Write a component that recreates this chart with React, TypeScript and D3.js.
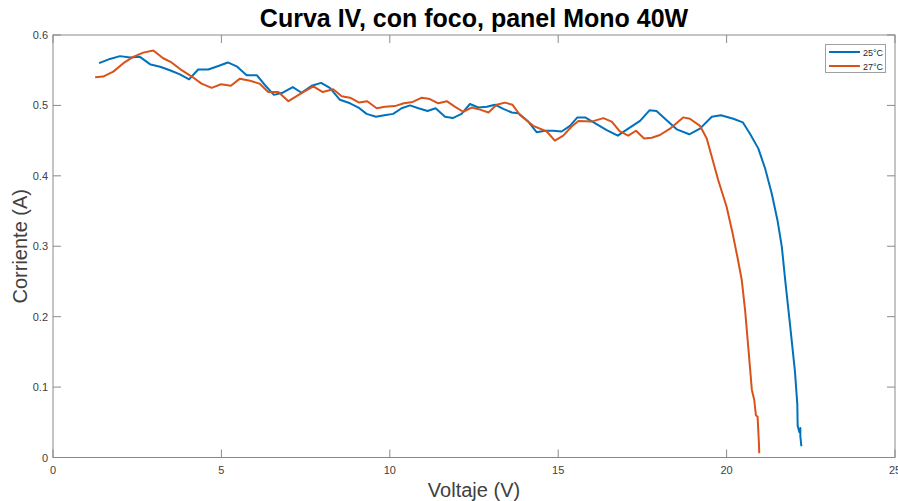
import React from 'react';
import * as d3 from 'd3';

// 25°C series (voltage, current)
const v25 = [1.37, 1.69, 1.99, 2.29, 2.58, 2.90, 3.18, 3.47, 3.77, 4.04, 4.31, 4.61, 4.91, 5.19, 5.47, 5.75, 6.05, 6.29, 6.56, 6.82, 7.12, 7.38, 7.68, 7.96, 8.22, 8.52, 8.82, 9.07, 9.31, 9.59, 9.84, 10.10, 10.35, 10.60, 10.85, 11.12, 11.36, 11.64, 11.87, 12.13, 12.38, 12.63, 12.88, 13.12, 13.37, 13.62, 13.82, 14.11, 14.36, 14.61, 14.86, 15.10, 15.35, 15.57, 15.80, 16.09, 16.44, 16.77, 17.08, 17.43, 17.71, 17.92, 18.22, 18.52, 18.89, 19.21, 19.56, 19.83, 20.20, 20.48, 20.69, 20.94, 21.14, 21.34, 21.51, 21.64, 21.74, 21.88, 22.03, 22.10, 22.11, 22.16, 22.19, 22.19, 22.22];
const i25 = [0.560, 0.566, 0.570, 0.568, 0.569, 0.558, 0.555, 0.550, 0.544, 0.537, 0.551, 0.551, 0.556, 0.561, 0.555, 0.543, 0.543, 0.529, 0.515, 0.518, 0.526, 0.518, 0.528, 0.532, 0.525, 0.508, 0.503, 0.497, 0.488, 0.484, 0.486, 0.488, 0.496, 0.500, 0.496, 0.492, 0.496, 0.484, 0.482, 0.488, 0.502, 0.497, 0.498, 0.501, 0.495, 0.490, 0.489, 0.477, 0.462, 0.464, 0.464, 0.463, 0.471, 0.483, 0.483, 0.475, 0.465, 0.457, 0.467, 0.478, 0.493, 0.492, 0.479, 0.466, 0.459, 0.467, 0.484, 0.486, 0.481, 0.476, 0.460, 0.439, 0.411, 0.375, 0.337, 0.299, 0.252, 0.190, 0.122, 0.075, 0.045, 0.036, 0.042, 0.030, 0.016];

// 27°C series
const v27 = [1.25, 1.49, 1.79, 2.09, 2.38, 2.68, 2.98, 3.27, 3.52, 3.82, 4.12, 4.41, 4.71, 4.99, 5.28, 5.55, 5.85, 6.13, 6.39, 6.69, 6.99, 7.43, 7.73, 8.01, 8.32, 8.57, 8.82, 9.09, 9.33, 9.61, 9.86, 10.15, 10.42, 10.68, 10.95, 11.19, 11.44, 11.69, 11.94, 12.18, 12.43, 12.68, 12.93, 13.17, 13.42, 13.64, 13.87, 14.26, 14.66, 14.90, 15.15, 15.40, 15.60, 15.99, 16.34, 16.59, 16.83, 17.08, 17.31, 17.55, 17.78, 18.02, 18.32, 18.71, 18.91, 19.21, 19.41, 19.56, 19.75, 20.00, 20.18, 20.32, 20.45, 20.55, 20.65, 20.75, 20.82, 20.87, 20.92, 20.96, 20.97];
const i27 = [0.540, 0.541, 0.548, 0.560, 0.569, 0.575, 0.578, 0.567, 0.561, 0.550, 0.541, 0.531, 0.525, 0.530, 0.528, 0.538, 0.535, 0.531, 0.519, 0.519, 0.506, 0.519, 0.527, 0.519, 0.523, 0.513, 0.511, 0.504, 0.506, 0.496, 0.498, 0.499, 0.503, 0.505, 0.511, 0.509, 0.503, 0.506, 0.498, 0.491, 0.497, 0.494, 0.490, 0.501, 0.504, 0.501, 0.486, 0.471, 0.463, 0.450, 0.457, 0.470, 0.478, 0.477, 0.482, 0.477, 0.463, 0.457, 0.464, 0.453, 0.454, 0.458, 0.467, 0.483, 0.481, 0.471, 0.453, 0.427, 0.394, 0.356, 0.318, 0.285, 0.252, 0.209, 0.153, 0.096, 0.082, 0.060, 0.058, 0.020, 0.006];

const xTicks = [0, 5, 10, 15, 20, 25];
const yTicks = [0, 0.1, 0.2, 0.3, 0.4, 0.5, 0.6];
const seriesNames = ['25°C', '27°C'];
const seriesColors = ['#0072BD', '#D95319'];

const W = 898;
const H = 501;
const left = 53;
const right = 895;
const top = 35;
const bottom = 457.5;
const axisColor = '#8a8a8a';
const textColor = '#404040';
const font = '"Liberation Sans", Arial, Helvetica, sans-serif';

export default function App() {
  const x = d3.scaleLinear().domain([0, 25]).range([left, right]);
  const y = d3.scaleLinear().domain([0, 0.6]).range([bottom, top]);

  const line = d3.line<[number, number]>()
    .x(d => x(d[0]))
    .y(d => y(d[1]));

  const series = [
    v25.map((v, k) => [v, i25[k]] as [number, number]),
    v27.map((v, k) => [v, i27[k]] as [number, number]),
  ];

  const tickLen = 8;

  return (
    <svg width={W} height={H} style={{ position: 'absolute', left: 0, top: 0, background: '#fff' }} fontFamily={font}>
      <rect x={0} y={0} width={W} height={H} fill="#fff" />

      {/* data lines */}
      {series.map((s, k) => (
        <path key={k} d={line(s) || ''} fill="none" stroke={seriesColors[k]} strokeWidth={2} strokeLinejoin="round" />
      ))}

      {/* box */}
      <rect x={left} y={top} width={right - left} height={bottom - top} fill="none" stroke={axisColor} strokeWidth={1} />

      {/* x ticks */}
      {xTicks.map(t => (
        <g key={'x' + t}>
          <line x1={x(t)} x2={x(t)} y1={bottom} y2={bottom - tickLen} stroke={axisColor} />
          <line x1={x(t)} x2={x(t)} y1={top} y2={top + tickLen} stroke={axisColor} />
          <text x={x(t)} y={bottom + 16} textAnchor="middle" fontSize={11} fill={textColor}>{t}</text>
        </g>
      ))}

      {/* y ticks */}
      {yTicks.map(t => (
        <g key={'y' + t}>
          <line x1={left} x2={left + tickLen} y1={y(t)} y2={y(t)} stroke={axisColor} />
          <line x1={right} x2={right - tickLen} y1={y(t)} y2={y(t)} stroke={axisColor} />
          <text x={left - 5} y={y(t) + 4} textAnchor="end" fontSize={11} fill={textColor}>{d3.format('.1~f')(t)}</text>
        </g>
      ))}

      {/* labels */}
      <text x={(left + right) / 2} y={27} textAnchor="middle" fontSize={25} fontWeight="bold" fill="#000">
        Curva IV, con foco, panel Mono 40W
      </text>
      <text x={(left + right) / 2} y={497} textAnchor="middle" fontSize={20} fill={textColor}>Voltaje (V)</text>
      <text transform={`translate(27, ${(top + bottom) / 2}) rotate(-90)`} textAnchor="middle" fontSize={20} fill={textColor}>
        Corriente (A)
      </text>

      {/* legend */}
      <g>
        <rect x={825.5} y={44.5} width={60} height={28} fill="#fff" stroke="#a0a0a0" />
        {seriesNames.map((n, k) => (
          <g key={n}>
            <line x1={829} x2={860} y1={52 + k * 14} y2={52 + k * 14} stroke={seriesColors[k]} strokeWidth={2} />
            <text x={863} y={55.5 + k * 14} fontSize={9} fill="#262626">{n}</text>
          </g>
        ))}
      </g>
    </svg>
  );
}
